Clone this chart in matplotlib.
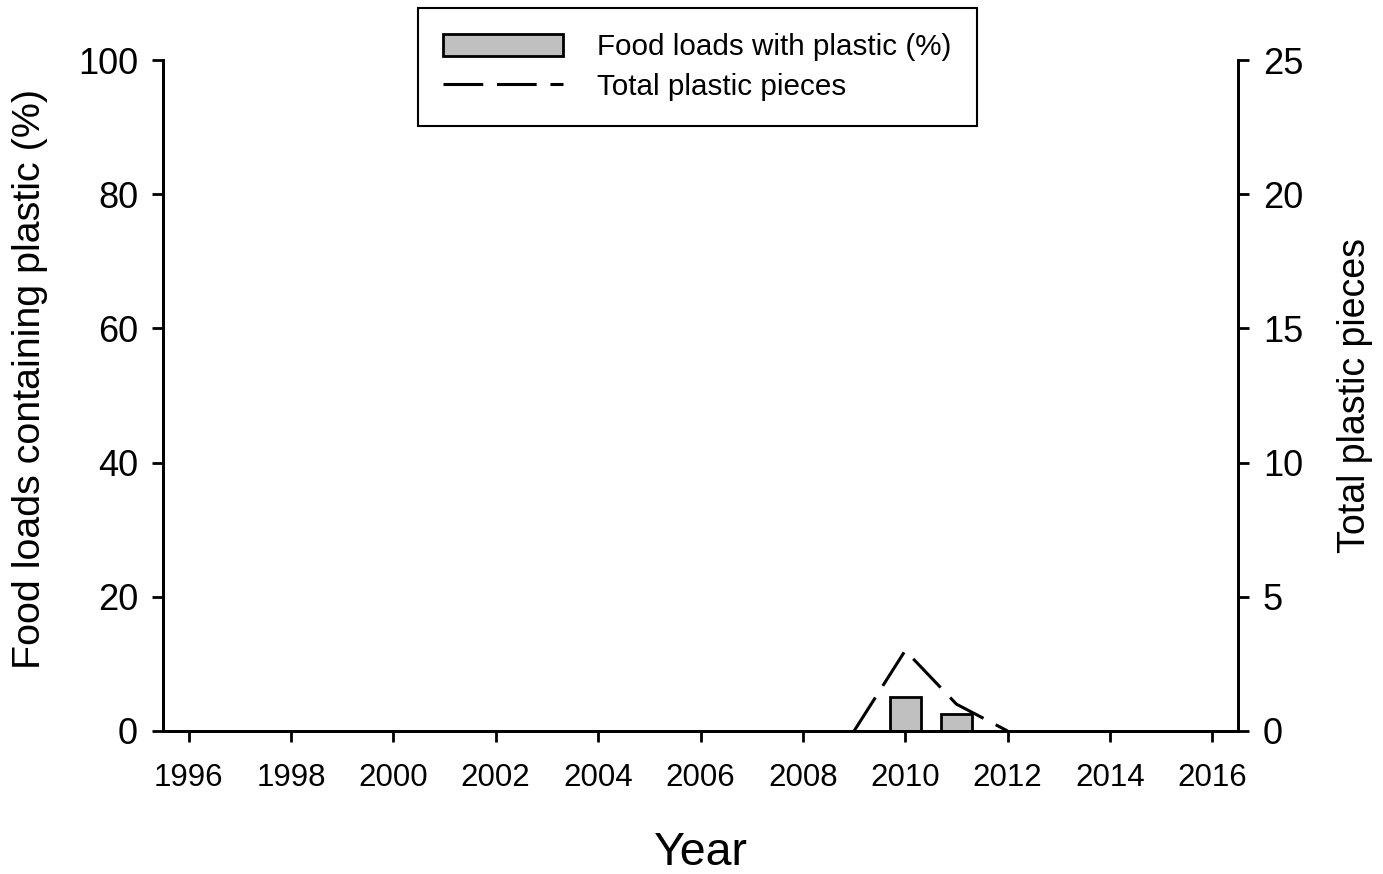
import numpy as np
import matplotlib
matplotlib.use('Agg')
import matplotlib.pyplot as plt

plt.rcParams['font.family'] = ['Liberation Sans', 'DejaVu Sans']

# Food loads with plastic (%) per year
bar_years = [2010, 2011]
bar_pct = [5.0, 2.6]

# Total plastic pieces per year
line_years = [2009, 2010, 2011, 2012]
line_pieces = [0, 3, 1, 0]

xticks = list(range(1996, 2017, 2))

fig = plt.figure(figsize=(13.83, 8.74), dpi=100)
ax = fig.add_axes([163/1383, 1 - 731/874, 1075/1383, 671/874])
ax2 = ax.twinx()

bars = ax.bar(bar_years, bar_pct, width=0.6, color='#c0c0c0',
              edgecolor='black', linewidth=2, zorder=2)
ln, = ax2.plot(line_years, line_pieces, color='black', lw=2.2,
               linestyle=(0, (13, 4.5)), zorder=3)

ax.set_xlim(1995.5, 2016.5)
ax.set_ylim(0, 100)
ax2.set_ylim(0, 25)
ax.set_xticks(xticks)
ax.set_yticks([0, 20, 40, 60, 80, 100])
ax2.set_yticks([0, 5, 10, 15, 20, 25])

for a in (ax, ax2):
    a.spines['top'].set_visible(False)
    for s in ('left', 'right', 'bottom'):
        a.spines[s].set_linewidth(2)
ax.tick_params(axis='x', length=8, width=2, pad=15, labelsize=22.5)
ax.tick_params(axis='y', length=8, width=2, pad=10, labelsize=26)
ax2.tick_params(axis='y', length=8, width=2, pad=10, labelsize=26)

ax.set_xlabel('Year', fontsize=33.5, va='center')
ax.xaxis.set_label_coords(0.5, -0.182)
ax.set_ylabel('Food loads containing plastic (%)', fontsize=28.4, va='center')
ax.yaxis.set_label_coords(-0.124, 0.5246)
ax2.set_ylabel('Total plastic pieces', fontsize=27, va='center')
ax2.yaxis.set_label_coords(1.109, 0.5)

leg = ax2.legend([bars, ln], ['Food loads with plastic (%)', 'Total plastic pieces'],
                 loc='upper left', bbox_to_anchor=(418/1383, 1 - 8/874),
                 bbox_transform=fig.transFigure, fontsize=21.3, fancybox=False,
                 framealpha=1, edgecolor='black', handlelength=4.05,
                 handleheight=0.75, handletextpad=1.15, borderpad=0.85,
                 labelspacing=0.4, borderaxespad=0)
leg.get_frame().set_linewidth(1.5)

plt.savefig('out.png', dpi=100)
